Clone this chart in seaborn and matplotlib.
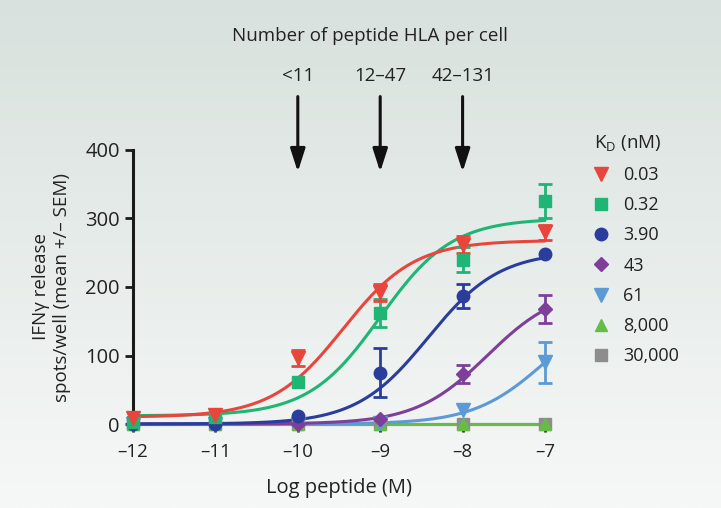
import numpy as np
import pandas as pd
import matplotlib
matplotlib.use("Agg")
import matplotlib.pyplot as plt
import seaborn as sns
from matplotlib.lines import Line2D

sns.set_style("ticks")
plt.rcParams['font.family'] = ['Open Sans', 'DejaVu Sans']

# data
log_conc = [-12, -11, -10, -9, -8, -7]
kd_labels = ['0.03', '0.32', '3.90', '43', '61', '8,000', '30,000']
means = {
    '0.03':   [9, 13, 96, 192, 262, 280],
    '0.32':   [3, 10, 61, 162, 240, 325],
    '3.90':   [0, 0, 11, 75, 187, 248],
    '43':     [0, 0, 0, 8, 73, 168],
    '61':     [0, 0, 0, 2, 20, 90],
    '8,000':  [0, 0, 0, 0, 0, 0],
    '30,000': [0, 0, 0, 0, 0, 0],
}
sems = {
    '0.03':   [0, 0, 12, 12, 13, 11],
    '0.32':   [0, 0, 0, 20, 18, 25],
    '3.90':   [0, 0, 0, 36, 17, 0],
    '43':     [0, 0, 0, 0, 13, 21],
    '61':     [0, 0, 0, 0, 0, 30],
    '8,000':  [0, 0, 0, 0, 0, 0],
    '30,000': [0, 0, 0, 0, 0, 0],
}
# fitted curve params (bottom, top, logEC50, hill)
fit_bottom = [10, 12, 0, 0, 0, 0, 0]
fit_top = [268, 300, 252, 200, 180, 0, 0]
fit_ec50 = [-9.45, -9.0, -8.42, -7.7, -7.0, -7.0, -7.0]
fit_hill = [1.0, 1.0, 1.0, 1.0, 1.0, 1.0, 1.0]

colors = ['#e8463d', '#1fb574', '#2b3d9c', '#7e3f9a', '#5c9ad6', '#66bd45', '#8d8d8d']
markers = ['v', 's', 'o', 'D', 'v', '^', 's']
msizes = [10, 9, 9, 7, 10, 9, 8]

xtick_labels = ['–12', '–11', '–10', '–9', '–8', '–7']
ytick_vals = [0, 100, 200, 300, 400]
arrow_x = [-10, -9, -8]
arrow_labels = ['<11', '12–47', '42–131']

rows = []
for k in kd_labels:
    for x, m, s in zip(log_conc, means[k], sems[k]):
        rows.append({'logc': x, 'kd': k, 'mean': m, 'sem': s})
df = pd.DataFrame(rows)

xs = np.linspace(-12, -7, 200)
crows = []
for i, k in enumerate(kd_labels):
    y = fit_bottom[i] + (fit_top[i] - fit_bottom[i]) / (1 + 10 ** ((fit_ec50[i] - xs) * fit_hill[i]))
    for a, b in zip(xs, y):
        crows.append({'logc': a, 'kd': k, 'fit': b})
cdf = pd.DataFrame(crows)

fig = plt.figure(figsize=(7.21, 5.08), dpi=100)

# background gradient
bg = fig.add_axes([0, 0, 1, 1], zorder=-10)
grad = np.linspace(0, 1, 256)[:, None]
top_c = np.array([216, 225, 221]) / 255
bot_c = np.array([246, 248, 247]) / 255
img = top_c[None, None, :] * (1 - grad[:, :, None]) + bot_c[None, None, :] * grad[:, :, None]
bg.imshow(img, aspect='auto', extent=[0, 1, 0, 1])
bg.axis('off')

ax = fig.add_axes([133 / 721, 84 / 508, 412 / 721, 274 / 508])
ax.patch.set_alpha(0)

# draw from last to first so red is on top
for i in reversed(range(len(kd_labels))):
    k = kd_labels[i]
    sub = cdf[cdf['kd'] == k]
    sns.lineplot(data=sub, x='logc', y='fit', color=colors[i], linewidth=2.2,
                 ax=ax, legend=False, zorder=3)
    d = df[df['kd'] == k]
    err = d[d['sem'] > 0]
    if len(err):
        ax.errorbar(err['logc'], err['mean'], yerr=err['sem'], fmt='none',
                    ecolor=colors[i], elinewidth=2, capsize=5, capthick=2,
                    zorder=4, clip_on=False)
    ax.plot(d['logc'], d['mean'], linestyle='none', marker=markers[i],
            markersize=msizes[i], color=colors[i], zorder=5, clip_on=False)

for ln in ax.lines:
    ln.set_clip_on(False)

ax.set_xlim(-12, -7)
ax.set_ylim(0, 400)
ax.set_xticks(log_conc)
ax.set_xticklabels(xtick_labels, fontsize=13.5)
ax.set_yticks(ytick_vals)
ax.set_yticklabels([str(v) for v in ytick_vals], fontsize=14.5)
ax.tick_params(axis='both', width=2, length=6, color='#1a1a1a', labelcolor='#222222')
ax.tick_params(axis='x', pad=8)
for sp in ['top', 'right']:
    ax.spines[sp].set_visible(False)
for sp in ['left', 'bottom']:
    ax.spines[sp].set_linewidth(2.2)
    ax.spines[sp].set_color('#1a1a1a')
ax.spines['bottom'].set_zorder(0)
ax.set_xlabel('Log peptide (M)', fontsize=14.5, color='#222222', labelpad=12)
ax.set_ylabel('IFNγ release\nspots/well (mean +/– SEM)', fontsize=13.5,
              color='#222222', labelpad=10, linespacing=1.2)

# arrows and labels above the plot
for x, lab in zip(arrow_x, arrow_labels):
    ax.annotate('', xy=(x, 364), xytext=(x, 482), annotation_clip=False,
                arrowprops=dict(arrowstyle='-|>,head_width=0.45,head_length=1.4',
                                color='#111111', lw=2.2))
    ax.text(x, 495, lab, ha='center', va='bottom', fontsize=13.5, color='#222222',
            clip_on=False)
fig.text(370 / 721, 1 - 36 / 508, 'Number of peptide HLA per cell', ha='center',
         va='center', fontsize=13.5, color='#222222')

handles = [Line2D([], [], linestyle='none', marker=markers[i], markersize=msizes[i],
                  color=colors[i]) for i in range(len(kd_labels))]
leg = fig.legend(handles, kd_labels, loc='upper left', bbox_to_anchor=(578 / 721, 1 - 117 / 508),
                 frameon=False, fontsize=13, title='K$_\\mathregular{D}$ (nM)',
                 title_fontsize=13.5, handlelength=0.8, handletextpad=0.8,
                 labelspacing=0.68, alignment='left', labelcolor='#222222')
leg.get_title().set_color('#222222')

fig.savefig('out.png', dpi=100)
